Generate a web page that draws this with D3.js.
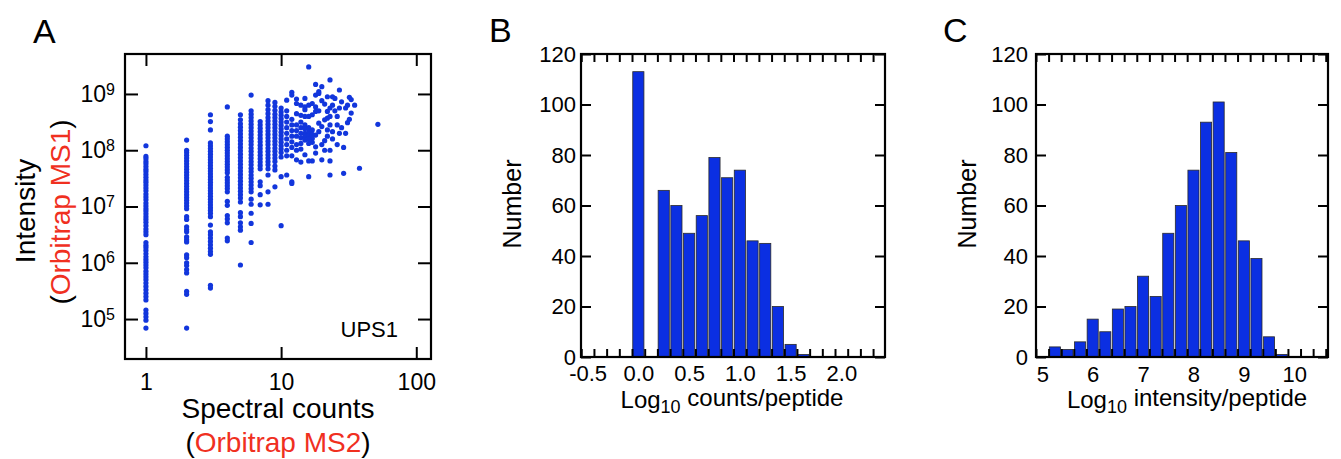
<!DOCTYPE html>
<html>
<head>
<meta charset="utf-8">
<script src="https://cdn.jsdelivr.net/npm/d3@7"></script>
<style>
  body { margin: 0; background: #fff; }
  text { font-family: "Liberation Sans", Arial, sans-serif; }
</style>
</head>
<body>
<div id="chart"></div>
<script>
// ---- panel A: spectral counts vs intensity (log10 intensity per count column)
var colCounts = [1, 2, 3, 4, 5, 6, 7, 8, 9, 10];
var colLogI = [
  [8.08, 7.89, 7.85, 7.80, 7.76, 7.71, 7.66, 7.62, 7.57, 7.52, 7.47, 7.43, 7.38, 7.33, 7.28, 7.22, 7.17, 7.12, 7.06, 7.01,
   6.96, 6.92, 6.87, 6.82, 6.77, 6.72, 6.66, 6.60, 6.55, 6.50, 6.36, 6.31, 6.27, 6.22, 6.16, 6.11, 6.06, 6.01, 5.96, 5.91,
   5.85, 5.80, 5.75, 5.70, 5.64, 5.58, 5.52, 5.46, 5.40, 5.34, 5.16, 5.10, 5.04, 4.98, 4.84],
  [8.18, 8.00, 7.96, 7.91, 7.86, 7.81, 7.76, 7.71, 7.66, 7.61, 7.56, 7.51, 7.46, 7.41, 7.36, 7.31, 7.26, 7.21, 7.16, 7.11,
   7.06, 7.01, 6.96, 6.82, 6.77, 6.64, 6.59, 6.55, 6.46, 6.41, 6.37, 6.14, 6.09, 6.00, 5.95, 5.88, 5.82, 5.49, 5.44, 4.84],
  [8.63, 8.51, 8.36, 8.13, 8.08, 8.03, 7.98, 7.93, 7.88, 7.83, 7.78, 7.73, 7.68, 7.63, 7.58, 7.53, 7.48, 7.43, 7.38, 7.33,
   7.28, 7.23, 7.18, 7.13, 7.08, 7.03, 6.98, 6.93, 6.88, 6.82, 6.67, 6.55, 6.50, 6.44, 6.38, 6.32, 6.26, 6.20, 6.15, 5.60, 5.55],
  [8.77, 8.25, 8.20, 8.15, 8.10, 8.05, 8.00, 7.95, 7.90, 7.85, 7.80, 7.75, 7.70, 7.65, 7.60, 7.52, 7.47, 7.42, 7.37, 7.32,
   7.26, 7.09, 7.02, 6.84, 6.78, 6.71, 6.44, 6.39],
  [8.63, 8.54, 8.47, 8.41, 8.35, 8.29, 8.23, 8.17, 8.11, 8.05, 7.99, 7.93, 7.87, 7.81, 7.75, 7.69, 7.63, 7.57, 7.51, 7.45,
   7.39, 7.33, 7.27, 7.21, 7.15, 7.08, 6.89, 6.82, 6.71, 6.64, 6.58, 5.96],
  [8.98, 8.70, 8.64, 8.58, 8.52, 8.46, 8.40, 8.34, 8.28, 8.22, 8.16, 8.10, 8.04, 7.98, 7.92, 7.86, 7.80, 7.74, 7.68, 7.62,
   7.56, 7.50, 7.44, 7.38, 7.32, 7.26, 7.13, 7.04, 6.88, 6.70, 6.36],
  [8.51, 8.45, 8.39, 8.33, 8.27, 8.21, 8.15, 8.09, 8.03, 7.97, 7.91, 7.85, 7.79, 7.73, 7.67, 7.44, 7.37, 7.21, 7.03],
  [8.88, 8.80, 8.72, 8.65, 8.58, 8.52, 8.46, 8.40, 8.34, 8.28, 8.22, 8.16, 8.10, 8.04, 7.98, 7.92, 7.86, 7.80, 7.74, 7.67,
   7.56, 7.26, 7.04],
  [8.85, 8.78, 8.71, 8.64, 8.58, 8.52, 8.46, 8.40, 8.34, 8.28, 8.22, 8.16, 8.10, 8.04, 7.98, 7.92, 7.86, 7.80, 7.72, 7.65, 7.35],
  [8.75, 8.68, 8.62, 8.56, 8.50, 8.44, 8.38, 8.32, 8.26, 8.20, 8.14, 8.08, 8.02, 7.96, 7.88, 7.53, 6.66]
];
// scattered points at higher counts
var extraCounts = [16, 23, 18, 20, 27, 32, 12, 12, 11, 13, 15, 19, 18, 19, 22, 24, 28, 31, 33, 16,
  17, 18, 15, 14, 13, 23, 22, 24, 27, 30, 31, 26, 22, 21, 23, 19, 17, 18, 15, 16,
  52, 20, 22, 24, 27, 19, 18, 17, 17, 18, 21, 23, 23, 20, 17, 16, 14, 13, 18, 15,
  38, 29, 23, 16, 11, 12, 12, 13, 13, 13, 14, 14, 14, 14, 14, 15, 15, 15, 15, 15,
  16, 16, 16, 16, 16, 17, 17, 12, 12, 12, 12, 12, 12, 12, 11, 11, 11, 11, 11, 11,
  11, 11, 11, 13, 13, 13, 14, 14, 15, 19, 20, 21, 25, 26, 24, 28, 30, 26, 29, 21,
  20, 22, 23, 25, 32, 35, 33];
var extraLogI = [9.48, 9.25, 9.17, 9.13, 9.07, 8.94, 9.03, 8.98, 8.89, 8.91, 8.92, 9.04, 8.98, 9.01, 8.95, 8.95, 8.86, 8.80, 8.66, 8.80,
  8.83, 8.77, 8.77, 8.80, 8.83, 8.75, 8.69, 8.80, 8.75, 8.75, 8.49, 8.60, 8.57, 8.54, 8.60, 8.48, 8.63, 8.69, 8.72, 8.60,
  8.46, 8.42, 8.36, 8.33, 8.30, 8.33, 8.27, 8.21, 8.14, 8.06, 8.17, 8.00, 7.81, 7.83, 7.81, 7.81, 7.79, 7.83, 7.95, 7.92,
  7.68, 7.59, 7.56, 7.53, 7.56, 7.44, 7.41, 8.45, 8.35, 8.25, 8.50, 8.40, 8.30, 8.22, 8.12, 8.45, 8.38, 8.30, 8.25, 8.18,
  8.40, 8.32, 8.26, 8.20, 8.12, 8.36, 8.28, 8.55, 8.45, 8.35, 8.25, 8.15, 8.05, 7.90, 8.70, 8.60, 8.50, 8.40, 8.30, 8.20,
  8.10, 8.00, 7.90, 8.65, 8.10, 8.00, 8.62, 8.02, 8.60, 8.70, 8.88, 8.82, 8.92, 8.45, 8.20, 8.40, 8.30, 8.10, 8.05, 8.00,
  8.10, 8.25, 8.45, 8.70, 8.55, 8.80, 8.90];
var countTicksA = [1, 10, 100];
var intensityTicksA = [1e5, 1e6, 1e7, 1e8, 1e9];

// ---- panel B: log10 counts/peptide histogram
var countBins = [0, 0.125, 0.25, 0.375, 0.5, 0.625, 0.75, 0.875, 1.0, 1.125, 1.25, 1.375, 1.5, 1.625];
var countNumbers = [113, 0, 66, 60, 49, 56, 79, 71, 74, 46, 45, 20, 5, 1];
var countLabels = [-0.5, 0, 0.5, 1, 1.5, 2];

// ---- panel C: log10 intensity/peptide histogram
var intensityBins = [5.25, 5.5, 5.75, 6.0, 6.25, 6.5, 6.75, 7.0, 7.25, 7.5, 7.75, 8.0, 8.25, 8.5, 8.75, 9.0, 9.25, 9.5, 9.75];
var intensityNumbers = [4, 3, 6, 15, 10, 19, 20, 32, 24, 49, 60, 74, 93, 101, 81, 46, 39, 8, 1];
var intensityLabels = [5, 6, 7, 8, 9, 10];

var numberTicks = [0, 20, 40, 60, 80, 100, 120];

var blue = "#1236dc", barBlue = "#0b2fe2", red = "#f0301f";

var svg = d3.select("#chart").append("svg")
  .attr("width", 1341)
  .attr("height", 459);

function styleAxis(g, fontSize) {
  g.attr("font-family", null).attr("font-size", fontSize);
  g.select(".domain").remove();
  g.selectAll(".tick line").attr("stroke", "#000").attr("stroke-width", 2);
  g.selectAll(".tick text").attr("fill", "#000");
  return g;
}

// ================= panel A =================
var A = {left: 125, right: 431, top: 54, bottom: 359};
var xA = d3.scaleLog().domain([0.7, 128.5]).range([A.left, A.right]);
var yA = d3.scaleLog().domain([Math.pow(10, 4.29), Math.pow(10, 9.71)]).range([A.bottom, A.top]);

var pts = [];
colCounts.forEach(function(c, i) {
  colLogI[i].forEach(function(v) { pts.push({c: c, v: v}); });
});
extraCounts.forEach(function(c, i) { pts.push({c: c, v: extraLogI[i]}); });

var gA = svg.append("g");
gA.selectAll("circle")
  .data(pts)
  .join("circle")
  .attr("cx", function(d) { return xA(d.c); })
  .attr("cy", function(d) { return yA(Math.pow(10, d.v)); })
  .attr("r", 2.6)
  .attr("fill", blue);

styleAxis(gA.append("g").attr("transform", "translate(0," + A.bottom + ")")
  .call(d3.axisBottom(xA).tickValues(countTicksA).tickSize(-12).tickPadding(15).tickFormat(d3.format("d"))), 23);
styleAxis(gA.append("g").attr("transform", "translate(0," + A.top + ")")
  .call(d3.axisTop(xA).tickValues(countTicksA).tickSize(-12).tickFormat("")), 23);
var yAxA = styleAxis(gA.append("g").attr("transform", "translate(" + A.left + ",0)")
  .call(d3.axisLeft(yA).tickValues(intensityTicksA).tickSize(-13).tickPadding(10)), 23);
yAxA.selectAll(".tick text").text(null).each(function(d) {
  var t = d3.select(this);
  t.append("tspan").text("10");
  t.append("tspan").attr("dy", "-0.45em").attr("font-size", 16).text(Math.round(Math.log10(d)));
});
styleAxis(gA.append("g").attr("transform", "translate(" + A.right + ",0)")
  .call(d3.axisRight(yA).tickValues(intensityTicksA).tickSize(-13).tickFormat("")), 23);

gA.append("rect")
  .attr("x", A.left).attr("y", A.top)
  .attr("width", A.right - A.left).attr("height", A.bottom - A.top)
  .attr("fill", "none").attr("stroke", "#000").attr("stroke-width", 2.2);

gA.append("text").attr("x", 398).attr("y", 337).attr("text-anchor", "end")
  .attr("font-size", 22).text("UPS1");
gA.append("text").attr("x", 33).attr("y", 43).attr("font-size", 34).text("A");

gA.append("text").attr("transform", "translate(35,211) rotate(-90)")
  .attr("text-anchor", "middle").attr("font-size", 28).text("Intensity");
var tA = gA.append("text").attr("transform", "translate(70,212) rotate(-90)")
  .attr("text-anchor", "middle").attr("font-size", 28);
tA.append("tspan").text("(");
tA.append("tspan").attr("fill", red).text("Orbitrap MS1");
tA.append("tspan").text(")");

gA.append("text").attr("x", 278).attr("y", 418)
  .attr("text-anchor", "middle").attr("font-size", 28).text("Spectral counts");
var tA2 = gA.append("text").attr("x", 278).attr("y", 452)
  .attr("text-anchor", "middle").attr("font-size", 28);
tA2.append("tspan").text("(");
tA2.append("tspan").attr("fill", red).text("Orbitrap MS2");
tA2.append("tspan").text(")");

// ================= histograms B and C =================
function histogram(o) {
  var g = svg.append("g");
  var x = d3.scaleLinear().domain(o.xDomain).range([o.left, o.right]);
  var y = d3.scaleLinear().domain([0, 120]).range([o.bottom, o.top]);
  var bw = o.binWidth;
  var half = bw * 0.44;

  var bins = o.centers.map(function(c, i) { return {c: c, n: o.numbers[i]}; })
    .filter(function(d) { return d.n > 0; });

  g.selectAll("rect.bar")
    .data(bins)
    .join("rect")
    .attr("class", "bar")
    .attr("x", function(d) { return x(d.c - half); })
    .attr("width", function(d) { return x(d.c + half) - x(d.c - half); })
    .attr("y", function(d) { return y(d.n); })
    .attr("height", function(d) { return y(0) - y(d.n); })
    .attr("fill", barBlue)
    .attr("stroke", "#2a2a2a")
    .attr("stroke-width", 0.8);

  // minor ticks sit on the bin edges
  var edges = d3.range(o.centers[0] - bw / 2 - bw * Math.floor((o.centers[0] - bw / 2 - o.xDomain[0]) / bw), o.xDomain[1], bw);

  styleAxis(g.append("g").attr("transform", "translate(0," + o.bottom + ")")
    .call(d3.axisBottom(x).tickValues(edges).tickSize(-8).tickFormat("")), 22);
  styleAxis(g.append("g").attr("transform", "translate(0," + o.top + ")")
    .call(d3.axisTop(x).tickValues(edges).tickSize(-8).tickFormat("")), 22);
  styleAxis(g.append("g").attr("transform", "translate(0," + o.bottom + ")")
    .call(d3.axisBottom(x).tickValues(o.labels).tickSize(0).tickPadding(o.xPad).tickFormat(o.format)), 22);
  styleAxis(g.append("g").attr("transform", "translate(" + o.left + ",0)")
    .call(d3.axisLeft(y).tickValues(numberTicks).tickSize(-10).tickPadding(o.yPad)), 22);
  styleAxis(g.append("g").attr("transform", "translate(" + o.right + ",0)")
    .call(d3.axisRight(y).tickValues(numberTicks).tickSize(-10).tickFormat("")), 22);

  g.append("rect")
    .attr("x", o.left).attr("y", o.top)
    .attr("width", o.right - o.left).attr("height", o.bottom - o.top)
    .attr("fill", "none").attr("stroke", "#000").attr("stroke-width", 2.2);

  g.append("text").attr("x", o.letterX).attr("y", 42).attr("font-size", 34).text(o.letter);
  g.append("text").attr("transform", "translate(" + o.yTitleX + ",204) rotate(-90)")
    .attr("text-anchor", "middle").attr("font-size", 25).text("Number");
  var t = g.append("text").attr("x", o.titleX).attr("y", 408)
    .attr("text-anchor", "middle").attr("font-size", 24);
  t.append("tspan").text("Log");
  t.append("tspan").attr("dy", "0.3em").attr("font-size", 18).text("10");
  t.append("tspan").attr("dy", "-0.3em").text(" " + o.title);
}

histogram({
  left: 581, right: 885, top: 54, bottom: 357,
  xDomain: [-0.565, 2.43], binWidth: 0.125,
  centers: countBins, numbers: countNumbers,
  labels: countLabels, format: function(d) { return d3.format(".1f")(d).replace("\u2212", "-"); },
  xPad: 8, yPad: 5,
  letter: "B", letterX: 489, yTitleX: 521, titleX: 732,
  title: "counts/peptide"
});

histogram({
  left: 1036, right: 1328, top: 54, bottom: 357,
  xDomain: [4.875, 10.67], binWidth: 0.25,
  centers: intensityBins, numbers: intensityNumbers,
  labels: intensityLabels, format: d3.format("d"),
  xPad: 9, yPad: 8,
  letter: "C", letterX: 943, yTitleX: 976, titleX: 1187,
  title: "intensity/peptide"
});
</script>
</body>
</html>
